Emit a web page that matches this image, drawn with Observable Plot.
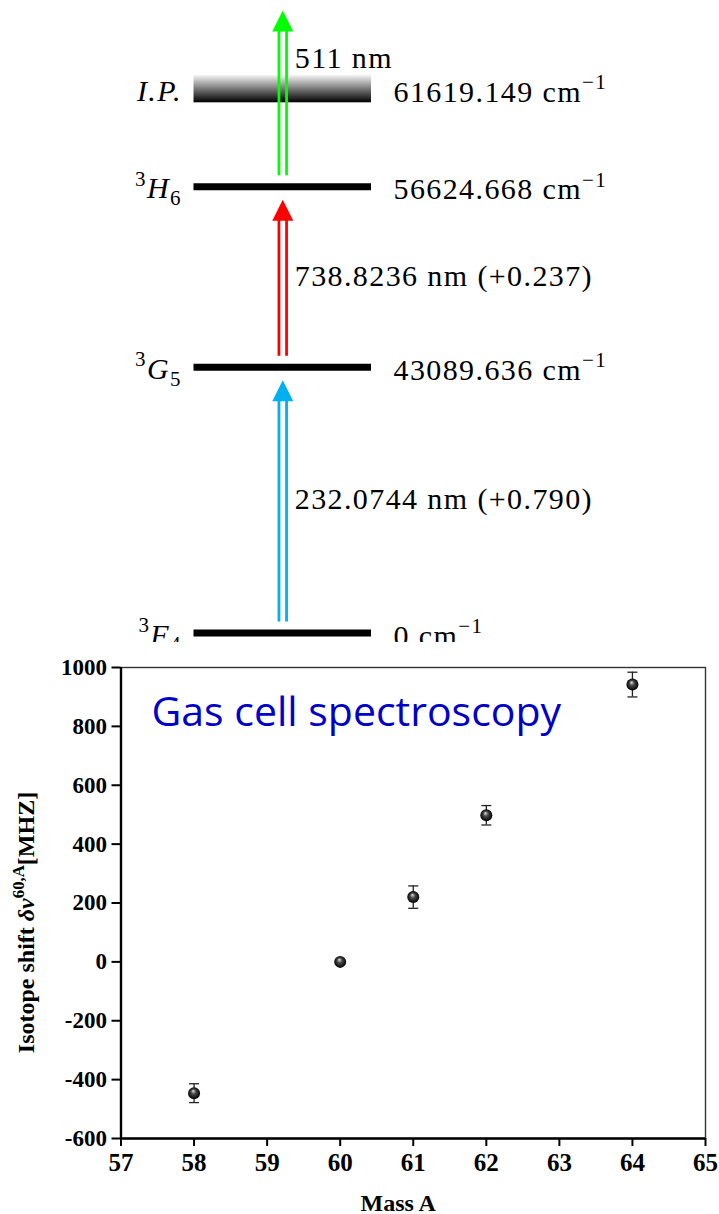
<!DOCTYPE html>
<html>
<head>
<meta charset="utf-8">
<script src="https://cdn.jsdelivr.net/npm/d3@7"></script>
<script src="https://cdn.jsdelivr.net/npm/@observablehq/plot@0.6"></script>
<style>
  html, body { margin: 0; padding: 0; background: #fff; }
  #levels svg, #shifts svg { display: block; }
</style>
</head>
<body>
<div id="levels"></div>
<div id="shifts"></div>
<script>
// --- Three-step ionization scheme -------------------------------------------
// Level energies (cm^-1), lowest first; the last one is the ionization potential.
const levelEnergies = [0, 43089.636, 56624.668, 61619.149];
const levelNames = ["^{3}*F*_{4}", "^{3}*G*_{5}", "^{3}*H*_{6}", "*I.P.*"];
const levelValues = ["0 cm^{−1}", "43089.636 cm^{−1}", "56624.668 cm^{−1}", "61619.149 cm^{−1}"];

// Laser steps: vacuum wavelength (nm) and the level each step starts from.
const stepWavelengths = [232.0744, 738.8236, 511];
const stepFrom = [0, 1, 2];
const stepLabels = ["232.0744 nm (+0.790)", "738.8236 nm (+0.237)", "511 nm"];
const stepColors = ["#00b0f0", "#ff0000", "#00ff00"];

// --- Isotope shifts measured in the gas cell ----------------------------------
const massNumbers = [58, 60, 61, 62, 64];
const isotopeShifts = [-446, 0, 220, 498, 942];     // MHz
const shiftErrors = [32, 0, 38, 33, 42];            // MHz
const massTicks = [57, 58, 59, 60, 61, 62, 63, 64, 65];
const shiftTicks = [-600, -400, -200, 0, 200, 400, 600, 800, 1000];
const plotTitle = "Gas cell spectroscopy";
const xTitle = "Mass A";
const yTitle = "Isotope shift *δν*^{60,A}[MHZ]";

// Tables built from the arrays above
const levels = levelEnergies.map((energy, i) => ({energy, name: levelNames[i], value: levelValues[i]}));
const boundLevels = levels.slice(0, 3);
const ionLimit = levels.slice(3);
const steps = stepWavelengths.map((nm, i) => {
  const from = levelEnergies[stepFrom[i]];
  return {from, to: from + 1e7 / nm, label: stepLabels[i], color: stepColors[i]};
});
const points = massNumbers.map((mass, i) => ({
  mass, shift: isotopeShifts[i], lo: isotopeShifts[i] - shiftErrors[i], hi: isotopeShifts[i] + shiftErrors[i], err: shiftErrors[i]
}));
const withErrors = points.filter(d => d.err > 0);

// Schematic (piecewise-linear) energy axis: each level gets its own row in the diagram.
const energyDomain = [...levelEnergies, steps[2].to];

// Filled arrow head, tip at the origin
const arrowHead = {draw(ctx) { ctx.moveTo(0, 0); ctx.lineTo(10.5, 21); ctx.lineTo(-10.5, 21); ctx.closePath(); }};
// Horizontal error-bar cap
const capMark = {draw(ctx) { ctx.moveTo(-5, 0); ctx.lineTo(5, 0); }};

const serif = "'Liberation Serif', 'Times New Roman', serif";

const levelPlot = Plot.plot({
  width: 719,
  height: 642,
  marginLeft: 193.5,
  marginRight: 348,
  marginTop: 0,
  marginBottom: 0,
  style: {fontFamily: serif, fontSize: "30px", letterSpacing: "1.4px", color: "black", background: "white", overflow: "hidden"},
  y: {type: "linear", domain: energyDomain, range: [632.5, 366.8, 186.3, 88.7, -3], axis: null},
  color: {type: "identity"},
  marks: [
    Plot.rect(ionLimit, {y1: "energy", y2: "energy", insetTop: -13.7, insetBottom: -13.6, fill: "url(#ip-band)"}),
    Plot.ruleY(boundLevels, {y: "energy", stroke: "black", strokeWidth: 7}),
    // double-line shafts, centred on the bars
    Plot.ruleX(steps, {x: null, y1: "to", y2: "from", stroke: "color", strokeWidth: 2.8, dx: -3.8, insetTop: 28, insetBottom: 11}),
    Plot.ruleX(steps, {x: null, y1: "to", y2: "from", stroke: "color", strokeWidth: 2.8, dx: 3.8, insetTop: 28, insetBottom: 11}),
    Plot.dot(steps, {y: "to", symbol: arrowHead, fill: "color", stroke: "none", dy: 13}),
    Plot.text(levels, {y: "energy", text: "name", frameAnchor: "left", textAnchor: "end", dx: -12, dy: 2, fontSize: 30}),
    Plot.text(levels, {y: "energy", text: "value", frameAnchor: "right", textAnchor: "start", dx: 22, dy: 3, fontSize: 30}),
    Plot.text(steps, {y: d => (d.from + d.to) / 2, text: "label", frameAnchor: "middle", textAnchor: "start", dx: 12, dy: -1, fontSize: 30})
  ]
});

const shiftPlot = Plot.plot({
  width: 719,
  height: 572,
  marginLeft: 120.5,
  marginRight: 14,
  marginTop: 25,
  marginBottom: 76,
  style: {fontFamily: serif, fontSize: "24px", color: "black", background: "white", overflow: "visible"},
  x: {domain: [57, 65]},
  y: {domain: [-600, 1000]},
  marks: [
    Plot.frame({stroke: "#333", strokeWidth: 1.4}),
    Plot.axisY({ticks: shiftTicks, tickSize: 9, tickPadding: 5, tickFormat: d => String(d), fontSize: 23, fontWeight: "bold", strokeWidth: 2, label: null}),
    Plot.axisX({ticks: massTicks, tickSize: 8, tickPadding: 7, tickFormat: d => String(d), fontSize: 25, fontWeight: "bold", strokeWidth: 2, label: null}),
    Plot.ruleX([57], {x: d => d, stroke: "black", strokeWidth: 2.4}),
    Plot.ruleY([-600], {y: d => d, stroke: "black", strokeWidth: 2.4}),
    Plot.ruleX(withErrors, {x: "mass", y1: "lo", y2: "hi", stroke: "#222", strokeWidth: 1.3}),
    Plot.dot(withErrors, {x: "mass", y: "lo", symbol: capMark, stroke: "#222", fill: "none", strokeWidth: 1.3}),
    Plot.dot(withErrors, {x: "mass", y: "hi", symbol: capMark, stroke: "#222", fill: "none", strokeWidth: 1.3}),
    Plot.dot(points, {x: "mass", y: "shift", r: 6, fill: "url(#bead)", stroke: "none"}),
    Plot.text([plotTitle], {text: d => d, frameAnchor: "top-left", textAnchor: "start", lineAnchor: "bottom", dx: 30.5, dy: 58, fill: "#0000cc", fontFamily: "'Open Sans', sans-serif", fontSize: 41}),
    Plot.text([xTitle], {text: d => d, frameAnchor: "bottom", textAnchor: "middle", lineAnchor: "bottom", dx: -15, dy: 72.7, fontSize: 24, fontWeight: "bold"}),
    Plot.text([yTitle], {text: d => d, frameAnchor: "left", textAnchor: "middle", lineAnchor: "bottom", rotate: -90, dx: -87, dy: 19.5, fontSize: 24, fontWeight: "bold"})
  ]
});

// Gradient for the ionization continuum band
const defs1 = d3.select(levelPlot).insert("defs", ":first-child");
const band = defs1.append("linearGradient").attr("id", "ip-band").attr("x1", 0).attr("y1", 0).attr("x2", 0).attr("y2", 1);
band.append("stop").attr("offset", "0%").attr("stop-color", "#f4f4f4");
band.append("stop").attr("offset", "100%").attr("stop-color", "#000");

// Shaded bead marker
const defs2 = d3.select(shiftPlot).insert("defs", ":first-child");
const bead = defs2.append("radialGradient").attr("id", "bead").attr("cx", 0.5).attr("cy", 0.5).attr("r", 0.5).attr("fx", 0.42).attr("fy", 0.3);
bead.append("stop").attr("offset", "0%").attr("stop-color", "#e6e6e6");
bead.append("stop").attr("offset", "40%").attr("stop-color", "#4a4a4a");
bead.append("stop").attr("offset", "100%").attr("stop-color", "#000");

document.getElementById("levels").append(levelPlot);
document.getElementById("shifts").append(shiftPlot);

// Minimal markup in labels: ^{..} superscript, _{..} subscript, *..* italic
function richText(svg) {
  d3.select(svg).selectAll("text").each(function () {
    const s = this.textContent;
    if (!/[\^_]\{|\*/.test(s)) return;
    const size = parseFloat(getComputedStyle(this).fontSize);
    const parts = s.split(/(\^\{[^}]*\}|_\{[^}]*\}|\*[^*]*\*)/).filter(p => p !== "");
    this.textContent = "";
    let shift = 0;
    for (const p of parts) {
      const t = d3.select(this).append("tspan");
      let target = 0, text = p;
      if (p.startsWith("^{")) { target = -0.42 * size; text = p.slice(2, -1); t.attr("font-size", 0.7 * size); }
      else if (p.startsWith("_{")) { target = 0.22 * size; text = p.slice(2, -1); t.attr("font-size", 0.7 * size); }
      else if (p.startsWith("*")) { text = p.slice(1, -1); t.attr("font-style", "italic"); }
      if (target !== shift) { t.attr("dy", target - shift); shift = target; }
      t.text(text);
    }
  });
}
richText(levelPlot);
richText(shiftPlot);
</script>
</body>
</html>
